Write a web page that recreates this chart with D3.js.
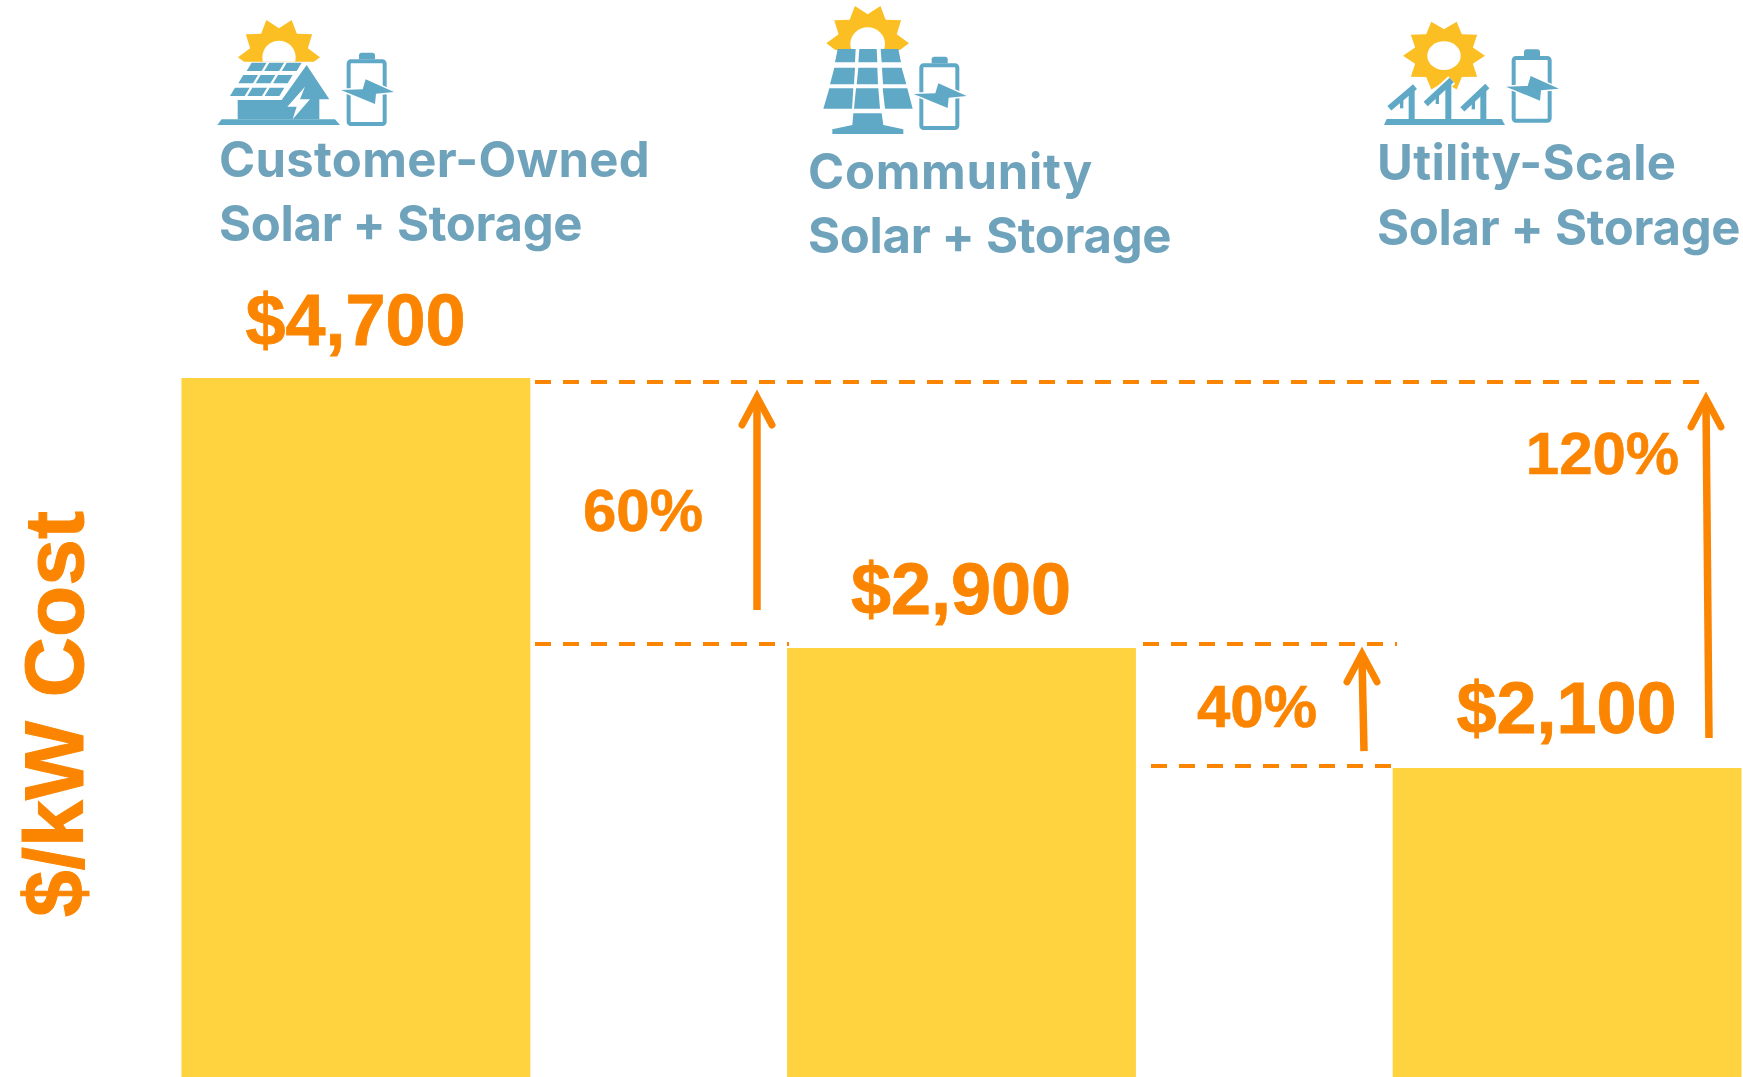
<!DOCTYPE html>
<html><head><meta charset="utf-8">
<script src="https://cdn.jsdelivr.net/npm/d3@7/dist/d3.min.js"></script>
<style>html,body{margin:0;padding:0;background:#fff;overflow:hidden}svg{display:block}</style>
</head><body><div id="c"></div>
<script>
// ---- data ----
const categories = ["Customer-Owned Solar + Storage","Community Solar + Storage","Utility-Scale Solar + Storage"];
const costValues = [4700,2900,2100];
const costLabels = ["$4,700","$2,900","$2,100"];
const categoryLine1 = ["Customer-Owned","Community","Utility-Scale"];
const categoryLine2 = ["Solar + Storage","Solar + Storage","Solar + Storage"];
const axisTitle = "$/kW Cost";
const premiumLabels = ["60%","40%","120%"];
const premiumFrom = [3153,2213,2300];   // arrow tails, in $/kW
const premiumTo = [4600,2887,4587];     // arrow tips, in $/kW
const guideValues = [4673,2927,2927,2113];

// ---- layout ----
const W=1743,H=1077, ORANGE="#FB8500", YELLOW="#FFD23F", TEXTBLUE="#6FA3BC", ICONBLUE="#5FA8C6", SUN="#FBBF24";
const svg=d3.select("#c").append("svg").attr("width",W).attr("height",H).attr("viewBox",[0,0,W,H]);
const x=d3.scaleBand().domain(categories).range([181.5,1741.5]).paddingInner(0.424).paddingOuter(0);
const y=d3.scaleLinear().domain([0,4700]).range([1083,378]);
const SANS="'Liberation Sans',Arial,sans-serif";

// bars
svg.append("g").selectAll("rect").data(categories).join("rect")
  .attr("x",d=>x(d)).attr("width",x.bandwidth())
  .attr("y",(d,i)=>y(costValues[i])).attr("height",(d,i)=>y(0)-y(costValues[i]))
  .attr("fill",YELLOW);

// dashed guides
const guideX=[[535,1701],[535,789],[1143,1397],[1151,1393]];
svg.append("g").selectAll("line").data(guideValues).join("line")
  .attr("x1",(d,i)=>guideX[i][0]).attr("x2",(d,i)=>guideX[i][1])
  .attr("y1",d=>y(d)).attr("y2",d=>y(d))
  .attr("stroke",ORANGE).attr("stroke-width",4).attr("stroke-dasharray","16 12");

// arrows
const arrowX=[[757,757],[1364,1362],[1709,1706]];
const ag=svg.append("g");
premiumLabels.forEach((l,i)=>{
  const [x0,x1]=arrowX[i], y0=y(premiumFrom[i]), y1=y(premiumTo[i]);
  ag.append("line").attr("x1",x0).attr("x2",x1).attr("y1",y0).attr("y2",y1+8)
    .attr("stroke",ORANGE).attr("stroke-width",7.5);
  ag.append("path").attr("d",`M${x1-15},${y1+32}L${x1},${y1+4}L${x1+15},${y1+32}`)
    .attr("fill","none").attr("stroke",ORANGE).attr("stroke-width",7).attr("stroke-linecap","round").attr("stroke-linejoin","miter");
});

// value labels
const valueX=[355.5,961,1566.5], valueBase=[345,614,733];
svg.append("g").selectAll("text").data(costLabels).join("text")
  .attr("x",(d,i)=>valueX[i]).attr("y",(d,i)=>valueBase[i])
  .attr("text-anchor","middle").attr("font-family",SANS).attr("font-weight",700).attr("font-size",72)
  .attr("fill",ORANGE).attr("stroke",ORANGE).attr("stroke-width",0.8).text(d=>d);

// premium labels
const premX=[643,1257,1602.5], premBase=[531,727,474];
svg.append("g").selectAll("text").data(premiumLabels).join("text")
  .attr("x",(d,i)=>premX[i]).attr("y",(d,i)=>premBase[i])
  .attr("text-anchor","middle").attr("font-family",SANS).attr("font-weight",700).attr("font-size",60)
  .attr("fill",ORANGE).attr("stroke",ORANGE).attr("stroke-width",0.6).text(d=>d);

// axis title
svg.append("text").attr("transform","translate(83,917) rotate(-90)")
  .attr("font-family",SANS).attr("font-weight",700).attr("font-size",84).attr("fill",ORANGE)
  .attr("stroke",ORANGE).attr("stroke-width",1).text(axisTitle);

// category labels
const catX=[219,808,1377], base1=[177,189,180], base2=[241,253,245];
const spacing1=[0.3,0.7,0.3], spacing2=[-0.3,-0.3,-0.3];
const catG=svg.append("g").attr("font-family","Inter,sans-serif").attr("font-weight",700).attr("font-size",49).attr("fill",TEXTBLUE);
catG.selectAll("text.a").data(categoryLine1).join("text").attr("class","a")
  .attr("x",(d,i)=>catX[i]).attr("y",(d,i)=>base1[i]).attr("letter-spacing",(d,i)=>spacing1[i]).text(d=>d);
catG.selectAll("text.b").data(categoryLine2).join("text").attr("class","b")
  .attr("x",(d,i)=>catX[i]).attr("y",(d,i)=>base2[i]).attr("letter-spacing",(d,i)=>spacing2[i]).text(d=>d);

// ---- icons ----
const pts=a=>a.map(p=>p.join(",")).join(" ");
function sun(g,cx,cy,Rx,Ry,hx,hy,clipY,id,holeDy){
  const n=10, a=[], ratio=0.74;
  for(let i=0;i<n*2;i++){const ang=Math.PI/n*i+Math.PI/n,k=i%2?ratio:1;a.push([cx+Rx*k*Math.sin(ang),cy-Ry*k*Math.cos(ang)]);}
  const s=g.append("g");
  if(clipY){svg.append("clipPath").attr("id",id).append("rect").attr("x",-200).attr("y",-200).attr("width",1000).attr("height",200+clipY);s.attr("clip-path",`url(#${id})`);}
  s.append("polygon").attr("points",pts(a)).attr("fill",SUN);
  s.append("ellipse").attr("cx",cx).attr("cy",cy+(holeDy||0)).attr("rx",hx).attr("ry",hy).attr("fill","#fff");
}
function battery(g,dx,dy){
  const b=g.append("g").attr("transform",`translate(${dx},${dy})`);
  b.append("rect").attr("x",446).attr("y",184).attr("width",108).attr("height",188).attr("rx",7).attr("fill","none").attr("stroke",ICONBLUE).attr("stroke-width",12);
  b.append("path").attr("d","M477,178V166Q477,158 485,158H517Q525,158 525,166V178Z").attr("fill",ICONBLUE);
  b.append("polygon").attr("points",pts([[423,270],[488,268],[497,238],[582,276],[528,281],[525,312]])).attr("fill",ICONBLUE).attr("stroke","#fff").attr("stroke-width",9).attr("paint-order","stroke");
}
function poly(g,a,fill){return g.append("polygon").attr("points",pts(a)).attr("fill",fill||ICONBLUE);}

// house icon
const g1=svg.append("g").attr("transform","translate(200,0) scale(0.33333)");
sun(g1,237,172,123,118,50,50,185,"cl1");
poly(g1,[[52,375],[65,358],[405,358],[420,375]]);
poly(g1,[[113,358],[113,300],[245,300],[320,195],[388,298],[358,298],[358,358]]);
[[[155,188],[305,188],[140,213]],[[130,225],[278,225],[115,250]],[[105,263],[253,263],[90,288]]].forEach(r=>{
  const [tl,tr,bl]=r, w=(tr[0]-tl[0]-16)/3, sk=bl[0]-tl[0];
  for(let k=0;k<3;k++){const xx=tl[0]+k*(w+8);
    poly(g1,[[xx,tl[1]],[xx+w,tl[1]],[xx+w+sk,bl[1]],[xx+sk,bl[1]]]);}
});
poly(g1,[[315,260],[262,320],[290,320],[278,358],[330,298],[300,298]],"#fff");
battery(g1,0,0);

// panel icon
const g2=svg.append("g").attr("transform","translate(790,0) scale(0.33333)");
sun(g2,233,130,124,118,52,50,150,"cl2",2);
[[[143,147],[197,147],[195,187],[135,187]],[[208,147],[260,147],[262,187],[205,187]],[[272,147],[325,147],[333,187],[275,187]],
 [[133,203],[195,203],[192,253],[120,253]],[[205,203],[262,203],[264,253],[200,253]],[[276,203],[335,203],[349,253],[279,253]],
 [[118,265],[190,265],[186,326],[100,326]],[[198,265],[265,265],[270,326],[192,326]],[[278,265],[352,265],[368,326],[285,326]]
].forEach(c=>poly(g2,c));
poly(g2,[[190,340],[275,340],[280,375],[340,388],[340,402],[127,402],[127,388],[187,375]]);
battery(g2,-52,12);

// tracker icon
const g3=svg.append("g").attr("transform","translate(1360,0) scale(0.33333)");
sun(g3,252,167,123,107,50,43);
poly(g3,[[72,375],[80,357],[425,357],[435,375]]);
[[88,325,165,260,155,125],[197,312,275,240,265,232],[307,328,382,258,370,340]].forEach(t=>{
  const [a,b,c,d,p,st]=t, top=d+10;
  g3.append("line").attr("x1",a).attr("y1",b).attr("x2",c).attr("y2",d).attr("stroke","#fff").attr("stroke-width",30);
  g3.append("line").attr("x1",p).attr("x2",p).attr("y1",top).attr("y2",357).attr("stroke",ICONBLUE).attr("stroke-width",18);
  g3.append("line").attr("x1",st).attr("x2",st).attr("y1",b-30).attr("y2",b).attr("stroke",ICONBLUE).attr("stroke-width",10);
  g3.append("line").attr("x1",a).attr("y1",b).attr("x2",c).attr("y2",d).attr("stroke",ICONBLUE).attr("stroke-width",18);
});
battery(g3,15,-10);
</script></body></html>
